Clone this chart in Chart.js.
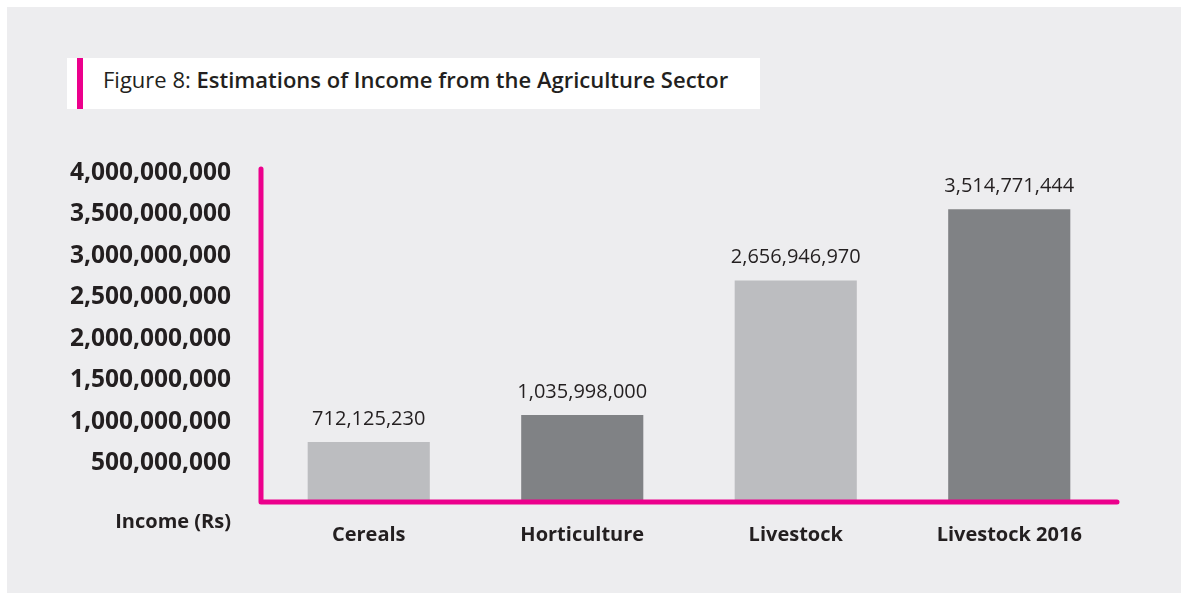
<!DOCTYPE html>
<html>
<head>
<meta charset="utf-8">
<script src="https://cdn.jsdelivr.net/npm/chart.js@4.4.1/dist/chart.umd.min.js"></script>
<style>
  html, body { margin: 0; padding: 0; background: #ffffff; }
  #wrap { position: relative; width: 1183px; height: 594px; overflow: hidden; }
  #panel { position: absolute; left: 7px; top: 7px; right: 2px; bottom: 1px; background: #ededef; }
  #title {
    position: absolute; left: 67px; top: 58px; width: 693px; height: 51px;
    background: #ffffff; box-sizing: border-box; padding-left: 36px;
    font-family: 'Open Sans', sans-serif; font-size: 22px; line-height: 42px;
    color: #231f20; white-space: nowrap;
  }
  #title::before {
    content: ''; position: absolute; left: 10px; top: 0; width: 6px; height: 51px; background: #ec008c;
  }
  #title b { font-weight: 600; }
  #chart { position: absolute; left: 0; top: 0; }
</style>
</head>
<body>
<div id="wrap">
  <div id="panel"></div>
  <div id="title">Figure 8: <b>Estimations of Income from the Agriculture Sector</b></div>
  <canvas id="chart" width="1183" height="594"></canvas>
</div>
<script>
// Income by agricultural sector (Rs)
const categories = ['Cereals', 'Horticulture', 'Livestock', 'Livestock 2016'];
const incomeRs = [712125230, 1035998000, 2656946970, 3514771444];
const barColors = ['#bcbdc0', '#808285', '#bcbdc0', '#808285'];
const yTickValues = [500000000, 1000000000, 1500000000, 2000000000, 2500000000, 3000000000, 3500000000, 4000000000];
const yAxisLabel = 'Income (Rs)';

const PINK = '#ec008c';
const INK = '#231f20';
const fmt = v => Number(v).toLocaleString('en-US');

// Pink L-shaped axis with rounded ends
const axisLines = {
  id: 'axisLines',
  afterDatasetsDraw(chart) {
    const { ctx, chartArea: { left, right, top, bottom } } = chart;
    ctx.save();
    ctx.strokeStyle = PINK;
    ctx.lineWidth = 5;
    ctx.lineCap = 'round';
    ctx.lineJoin = 'round';
    ctx.beginPath();
    ctx.moveTo(left - 1, top);
    ctx.lineTo(left - 1, bottom + 1);
    ctx.lineTo(right + 1, bottom + 1);
    ctx.stroke();
    ctx.restore();
  }
};

// Value above each bar, plus the axis caption under the value ticks
const barLabels = {
  id: 'barLabels',
  afterDraw(chart) {
    const { ctx } = chart;
    ctx.save();
    ctx.fillStyle = INK;
    ctx.textAlign = 'center';
    ctx.textBaseline = 'middle';
    ctx.font = '400 20px "Open Sans"';
    const meta = chart.getDatasetMeta(0);
    meta.data.forEach((bar, i) => {
      ctx.fillText(fmt(chart.data.datasets[0].data[i]), bar.x, bar.y - 23);
    });
    const yScale = chart.scales.y;
    ctx.textAlign = 'right';
    ctx.font = '700 20px "Open Sans"';
    ctx.fillText(yAxisLabel, yScale.right - yScale.options.ticks.padding, 522);
    ctx.restore();
  }
};

new Chart(document.getElementById('chart'), {
  type: 'bar',
  data: {
    labels: categories,
    datasets: [{
      data: incomeRs,
      backgroundColor: barColors,
      borderWidth: 0,
      barPercentage: 0.572,
      categoryPercentage: 1
    }]
  },
  options: {
    responsive: false,
    animation: false,
    layout: { padding: { left: 0, top: 169, right: 67, bottom: 0 } },
    plugins: { legend: { display: false }, tooltip: { enabled: false }, title: { display: false } },
    scales: {
      x: {
        grid: { display: false, drawTicks: false },
        border: { display: false },
        ticks: { color: INK, padding: 22, font: { family: 'Open Sans', size: 20, weight: 'bold' } },
        afterFit(s) { s.height = 93; }
      },
      y: {
        min: 0,
        max: 4000000000,
        afterBuildTicks(s) { s.ticks = yTickValues.map(v => ({ value: v })); },
        grid: { display: false, drawTicks: false },
        border: { display: false },
        ticks: {
          color: INK, padding: 31, labelOffset: 4,
          font: { family: 'Open Sans', size: 24.5, weight: 'bold' },
          callback: v => fmt(v)
        },
        afterFit(s) { s.width = 262; }
      }
    }
  },
  plugins: [axisLines, barLabels]
});
</script>
</body>
</html>
